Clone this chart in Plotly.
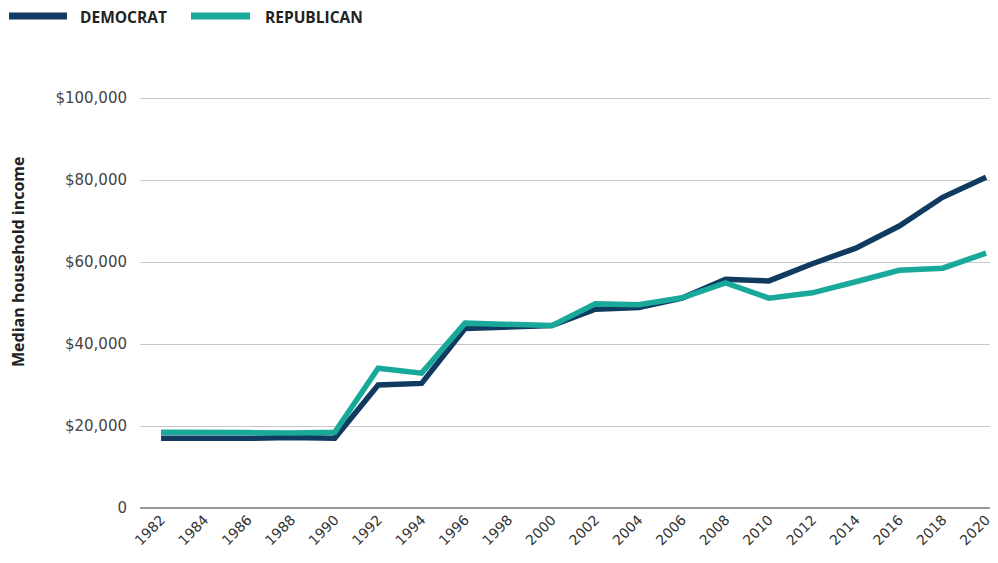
import plotly.graph_objects as go

# ── Data ────────────────────────────────────────────────────────────────────
YEARS = [1982, 1984, 1986, 1988, 1990, 1992, 1994, 1996, 1998, 2000,
         2002, 2004, 2006, 2008, 2010, 2012, 2014, 2016, 2018, 2020]

DEMOCRAT = [17000, 16900, 17000, 17200, 17000, 30000, 30400, 43800, 44200, 44500,
            48500, 48900, 51200, 55800, 55400, 59600, 63400, 68800, 75800, 80700]

REPUBLICAN = [18500, 18600, 18400, 18300, 18500, 34100, 32900, 45100, 44800, 44500,
              49800, 49600, 51300, 54900, 51200, 52500, 55200, 58000, 58500, 62200]

Y_TICKS = [0, 20000, 40000, 60000, 80000, 100000]
Y_TICK_TEXT = ["0", "$20,000", "$40,000", "$60,000", "$80,000", "$100,000"]

SERIES = ["DEMOCRAT", "REPUBLICAN"]
COLORS = {
    "DEMOCRAT":   "#113a61",
    "REPUBLICAN": "#19a99b",
}
TICK_FONT = "DejaVu Sans"
LABEL_FONT = "Open Sans"

# ── Page geometry (pixels) ──────────────────────────────────────────────────
# the page body keeps its default 8px margin, so the figure is drawn 8px
# smaller and everything is placed in page pixels minus that offset
BODY = 8
W, H = 998 - BODY, 563 - BODY
M_L, M_R, M_T, M_B = 140 - BODY, 0, 60 - BODY, 55
PLOT_W = W - M_L - M_R
PLOT_H = H - M_T - M_B


def px_x(px):
    """page pixel -> paper x"""
    return (px - BODY - M_L) / PLOT_W


def px_y(py):
    """page pixel (from top) -> paper y"""
    return (H - M_B - (py - BODY)) / PLOT_H


fig = go.Figure()

for name, values in zip(SERIES, [DEMOCRAT, REPUBLICAN]):
    fig.add_trace(go.Scatter(
        x=YEARS,
        y=values,
        name=name,
        mode="lines",
        line=dict(color=COLORS[name], width=5.5),
        showlegend=False,
    ))

# ── Hand-built legend (long swatches like the reference) ────────────────────
legend_items = [("DEMOCRAT", 9, 67, 78), ("REPUBLICAN", 191, 250, 263)]
for name, x0, x1, tx in legend_items:
    fig.add_shape(
        type="line", xref="paper", yref="paper",
        x0=px_x(x0), x1=px_x(x1), y0=px_y(16), y1=px_y(16),
        line=dict(color=COLORS[name], width=7),
    )
    fig.add_annotation(
        text=f"<b>{name}</b>", xref="paper", yref="paper",
        x=px_x(tx), y=px_y(17), xanchor="left", yanchor="middle",
        showarrow=False,
        font=dict(family=LABEL_FONT, size=15.5, color="#222222"),
    )

# ── Y axis title ────────────────────────────────────────────────────────────
fig.add_annotation(
    text="<b>Median household income</b>", xref="paper", yref="paper",
    x=px_x(18), y=px_y(262), xanchor="center", yanchor="middle",
    textangle=-90, showarrow=False,
    font=dict(family=LABEL_FONT, size=16, color="#222222"),
)

fig.update_layout(
    width=W,
    height=H,
    margin=dict(l=M_L, r=M_R, t=M_T, b=M_B),
    plot_bgcolor="white",
    paper_bgcolor="white",
    font=dict(family=TICK_FONT, color="#333333", size=14),
    showlegend=False,
)

fig.update_xaxes(
    range=[1981.03, 2020.55],
    tickvals=YEARS,
    tickangle=-45,
    tickfont=dict(family=TICK_FONT, size=14, color="#333333"),
    showgrid=False,
    zeroline=False,
    showline=False,
    ticks="",
    automargin=False,
)

fig.update_yaxes(
    range=[0, 109300],
    tickvals=Y_TICKS,
    ticktext=Y_TICK_TEXT,
    tickfont=dict(family=TICK_FONT, size=15, color="#444444"),
    showgrid=True,
    gridcolor="#c8c8c8",
    gridwidth=1,
    zeroline=True,
    zerolinecolor="#999999",
    zerolinewidth=2,
    ticklabelstandoff=12,
    automargin=False,
)

fig.write_html("out.html")
